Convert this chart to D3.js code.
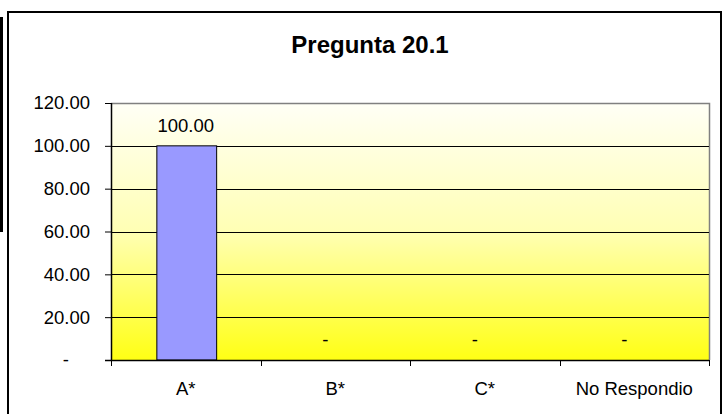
<!DOCTYPE html>
<html>
<head>
<meta charset="utf-8">
<script src="https://cdn.jsdelivr.net/npm/d3@7"></script>
<style>
  html, body { margin: 0; padding: 0; background: #fff; }
  svg { display: block; font-family: "Liberation Sans", Arial, sans-serif; }
</style>
</head>
<body>
<svg id="chart" width="723" height="414"></svg>
<script>
// Responses to question 20.1 (percent)
const categories = ["A*", "B*", "C*", "No Respondio"];
const values = [100, 0, 0, 0];
const yTicks = [0, 20, 40, 60, 80, 100, 120];
const chartTitle = "Pregunta 20.1";

const svg = d3.select("#chart");
const plot = { left: 111, top: 103, right: 709, bottom: 360 };
const labelSize = 18.5;

// Accounting-style number format: zero shows as a dash
const fmt = v => v === 0 ? "-" : d3.format(".2f")(v);

// Outer frame pieces
svg.append("rect")
  .attr("x", 0).attr("y", 17).attr("width", 3).attr("height", 215)
  .attr("fill", "#000");
svg.append("rect")
  .attr("x", 8).attr("y", 12).attr("width", 713).attr("height", 420)
  .attr("fill", "#fff").attr("stroke", "#000").attr("stroke-width", 2);

// Title
svg.append("text")
  .attr("x", 370).attr("y", 53)
  .attr("text-anchor", "middle")
  .attr("font-size", 24).attr("font-weight", "bold")
  .text(chartTitle);

const x = d3.scaleBand()
  .domain(categories)
  .range([plot.left, plot.right])
  .paddingInner(0).paddingOuter(0);

const y = d3.scaleLinear()
  .domain([0, 120])
  .range([plot.bottom, plot.top]);

// Plot-area background gradient
const defs = svg.append("defs");
const grad = defs.append("linearGradient")
  .attr("id", "bg").attr("x1", 0).attr("y1", 0).attr("x2", 0).attr("y2", 1);
grad.append("stop").attr("offset", "0%").attr("stop-color", "#fffff6");
grad.append("stop").attr("offset", "50%").attr("stop-color", "#ffffb4");
grad.append("stop").attr("offset", "100%").attr("stop-color", "#ffff14");

svg.append("rect")
  .attr("x", plot.left).attr("y", plot.top)
  .attr("width", plot.right - plot.left).attr("height", plot.bottom - plot.top)
  .attr("fill", "url(#bg)");

// Plot-area border (top and right in gray)
svg.append("path")
  .attr("d", `M${plot.left},${plot.top + 0.5}H${plot.right + 0.5}V${plot.bottom}`)
  .attr("fill", "none").attr("stroke", "#808080").attr("stroke-width", 1.5);

// Horizontal gridlines
svg.append("g")
  .selectAll("line")
  .data(yTicks.filter(t => t > 0 && t < 120))
  .join("line")
  .attr("x1", plot.left).attr("x2", plot.right)
  .attr("y1", d => Math.round(y(d)) + 0.5).attr("y2", d => Math.round(y(d)) + 0.5)
  .attr("stroke", "#000").attr("stroke-width", 1);

// Bars
const barW = x.bandwidth() * 0.4;
svg.append("g")
  .selectAll("rect")
  .data(values.map((v, i) => ({ c: categories[i], v })))
  .join("rect")
  .attr("x", d => x(d.c) + x.bandwidth() / 2 - barW / 2 + 1)
  .attr("y", d => y(d.v))
  .attr("width", barW)
  .attr("height", d => y(0) - y(d.v))
  .attr("fill", "#9999ff")
  .attr("stroke", "#000").attr("stroke-width", 1);

// Value labels
svg.append("g")
  .selectAll("text")
  .data(values.map((v, i) => ({ c: categories[i], v })))
  .join("text")
  .attr("x", d => x(d.c) + x.bandwidth() / 2 + (d.v === 0 ? -10 : 0))
  .attr("y", d => y(d.v) - 14)
  .attr("text-anchor", "middle")
  .attr("font-size", labelSize)
  .text(d => fmt(d.v));

// Y axis
const yAxis = svg.append("g")
  .attr("transform", `translate(${plot.left},0)`)
  .call(d3.axisLeft(y).tickValues(yTicks).tickFormat(fmt).tickSize(6).tickPadding(15));
yAxis.selectAll("text")
  .attr("font-size", labelSize).attr("font-family", "Liberation Sans, Arial, sans-serif")
  .attr("fill", "#000")
  .attr("dx", d => d === 0 ? -21 : 0);
yAxis.selectAll("line").attr("stroke", "#000");
yAxis.select(".domain").attr("stroke", "#000").attr("stroke-width", 1.5)
  .attr("d", `M0.5,${plot.top}V${plot.bottom}`);

// X axis with ticks at category boundaries
const xAxis = svg.append("g")
  .attr("transform", `translate(0,${plot.bottom})`);
xAxis.append("line")
  .attr("x1", plot.left - 6).attr("x2", plot.right)
  .attr("y1", 0.5).attr("y2", 0.5)
  .attr("stroke", "#000").attr("stroke-width", 1.5);
const bounds = categories.map(c => x(c)).concat([plot.right]);
xAxis.selectAll("line.tick")
  .data(bounds)
  .join("line")
  .attr("class", "tick")
  .attr("x1", d => Math.round(d) + 0.5).attr("x2", d => Math.round(d) + 0.5)
  .attr("y1", 0).attr("y2", 6)
  .attr("stroke", "#000");
xAxis.selectAll("text.cat")
  .data(categories)
  .join("text")
  .attr("class", "cat")
  .attr("x", d => x(d) + x.bandwidth() / 2)
  .attr("y", 35)
  .attr("text-anchor", "middle")
  .attr("font-size", labelSize)
  .text(d => d);
</script>
</body>
</html>
